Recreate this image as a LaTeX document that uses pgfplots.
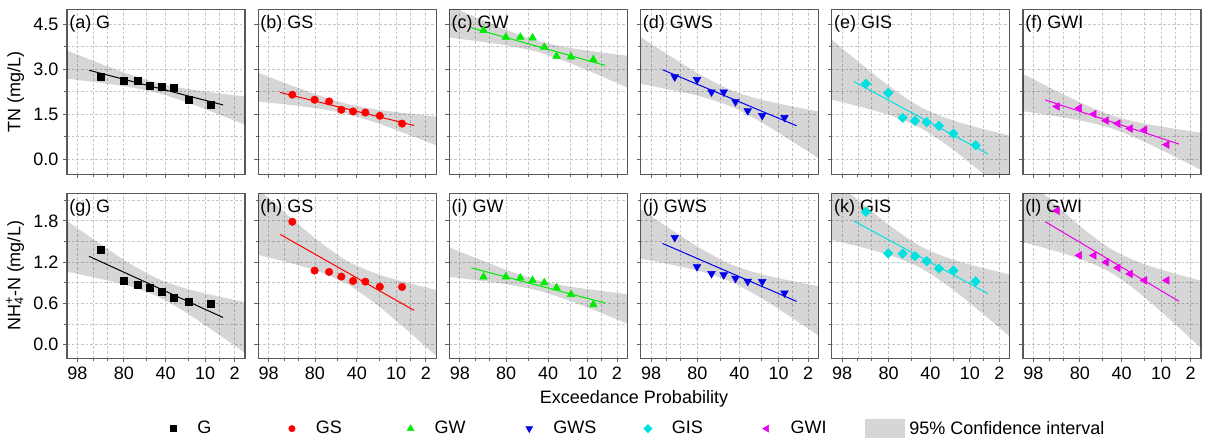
\documentclass[border=0pt]{standalone}
\usepackage{fontspec}
\setmainfont{Liberation Sans}
\usepackage{pgfplots}
\usepackage{pgfplotstable}
\pgfplotsset{compat=1.18}
\usepgfplotslibrary{fillbetween}

\newcommand{\fs}{\fontsize{13.5pt}{16pt}\selectfont}
\definecolor{cGS}{RGB}{255,0,0}
\definecolor{cGW}{RGB}{0,235,0}
\definecolor{cGWS}{RGB}{0,0,235}
\definecolor{cGIS}{RGB}{0,225,225}
\definecolor{cGWI}{RGB}{235,0,235}

% plotting positions (normal score, left = high exceedance)
\pgfplotstableread{
x      a     b     c     d     e     f     g     h     i     j     k     l
-1.434 2.745 2.153 4.295 2.745 2.52  1.761 1.385 1.786 0.984 1.557 1.932 1.947
-0.852 2.63  1.985 4.07  2.655 2.21  1.707 0.934 1.076 0.984 1.131 1.326 1.297
-0.473 2.63  1.928 4.07  2.243 1.383 1.507 0.871 1.057 0.969 1.032 1.322 1.297
-0.153 2.45  1.65  4.05  2.243 1.282 1.292 0.822 0.988 0.934 1.013 1.286 1.198
 0.153 2.41  1.594 3.736 1.918 1.239 1.192 0.768 0.925 0.900 0.963 1.213 1.116
 0.473 2.38  1.56  3.435 1.617 1.115 1.025 0.680 0.915 0.827 0.919 1.106 1.028
 0.852 2.00  1.45  3.415 1.46  0.857 0.981 0.626 0.841 0.728 0.915 1.076 0.934
 1.434 1.82  1.19  3.324 1.393 0.469 0.489 0.596 0.837 0.581 0.749 0.919 0.934
}\pts

\pgfplotstableread{
x      a     b     c     d     e     f     g     h     i     j     k     l
-1.751 2.968 2.227 4.382 2.985 2.593 1.981 1.284 1.602 1.115 1.470 1.798 1.789
 1.751 1.812 1.127 3.128 1.119 0.183 0.507 0.394 0.496 0.603 0.628 0.742 0.629
}\fits

\pgfplotstableread{
x      aU    aL    bU    bL    cU    cL    dU    dL    eU    eL     fU    fL     gU    gL     hU    hL     iU    iL    jU    jL    kU    kL    lU    lL
-2.326 3.628 2.688 2.887 1.927 5.118 4.058 4.072 2.512 3.988 1.988  2.843 1.603  1.800 1.060  2.264 1.304  1.414 0.984 1.969 1.249 2.421 1.521 2.469 1.489
-1.5   3.213 2.557 2.483 1.813 4.662 3.922 3.396 2.308 3.118 1.722  2.309 1.443  1.478 0.962  1.858 1.188  1.228 0.928 1.661 1.159 2.036 1.408 2.048 1.364
-0.75  2.855 2.420 2.135 1.691 4.269 3.779 2.813 2.091 2.367 1.442  1.847 1.273  1.201 0.859  1.508 1.064  1.068 0.869 1.396 1.063 1.704 1.288 1.684 1.230
 0     2.555 2.226 1.845 1.509 3.941 3.570 2.325 1.779 1.738 1.038  1.461 1.027  0.969 0.710  1.217 0.881  0.934 0.784 1.175 0.923 1.428 1.113 1.381 1.038
 0.75  2.360 1.925 1.664 1.220 3.732 3.242 2.013 1.291 1.335 0.410  1.215 0.641  0.820 0.478  1.034 0.590  0.849 0.650 1.035 0.702 1.252 0.836 1.188 0.734
 1.5   2.223 1.567 1.541 0.871 3.588 2.848 1.797 0.709 1.054 -0.342 1.046 0.180  0.716 0.200  0.910 0.240  0.790 0.490 0.939 0.437 1.132 0.504 1.055 0.371
 2.326 2.092 1.152 1.427 0.467 3.452 2.392 1.592 0.032 0.788 -1.212 0.885 -0.355 0.618 -0.122 0.794 -0.166 0.734 0.304 0.849 0.129 1.019 0.119 0.929 -0.051
}\bands

\pgfplotsset{
  panel/.style={
    anchor=north west, scale only axis, width=133.5pt, height=123.75pt,
    xmin=-2.326, xmax=2.326,
    xtick={-2.054,-0.8416,0.2533,1.2816,2.054},
    xticklabels={98,80,40,10,2},
    minor xtick={-1.645,-1.2816,-0.2533,0.8416,1.645},
    grid=both,
    major grid style={gray!45, dash pattern=on 2pt off 1.5pt, line width=0.5pt},
    minor grid style={gray!45, dash pattern=on 2pt off 1.5pt, line width=0.5pt},
    tick pos=left, tick align=outside,
    major tick length=3pt, minor tick length=2pt,
    tick style={black!60, line width=0.6pt},
    axis line style={black!65, line width=1pt},
    ticklabel style={font=\fs},
    yticklabel style={/pgf/number format/.cd, fixed, fixed zerofill, precision=1},
    /pgf/number format/assume math mode=true,
    label style={font=\fs},
  },
  toprow/.style={ymin=-0.5, ymax=5, ytick={0,1.5,3,4.5}, minor ytick={0.75,2.25,3.75}, xticklabels={}},
  botrow/.style={ymin=-0.2, ymax=2.2, ytick={0,0.6,1.2,1.8}, minor ytick={0.3,0.9,1.5,2.1}},
  noy/.style={yticklabels={}},
  bandfill/.style={fill=black, fill opacity=0.16, draw=none},
}
\tikzset{
  lgmark/.style={/pgfplots/legend image code/.code={\path[draw=none, fill=none] (-15pt,-7pt) rectangle (15pt,7pt); \draw[##1] plot coordinates {(0pt,0pt)};}},
  lgarea/.style={/pgfplots/legend image code/.code={\path[##1, draw=none] (-15pt,-7pt) rectangle (15pt,7pt);}},
}

% #1 column, #2 colour, #3 mark options, #4 panel title
\newcommand{\panel}[4]{%
  \addplot[name path=U, draw=none, smooth] table[x=x, y=#1U] {\bands};
  \addplot[name path=L, draw=none, smooth] table[x=x, y=#1L] {\bands};
  \addplot[bandfill] fill between[of=U and L];
  \addplot[#2, line width=0.75pt] table[x=x, y=#1] {\fits};
  \addplot[#2, only marks, #3] table[x=x, y=#1] {\pts};
  \node[anchor=base west, inner sep=0pt, font=\fs, xshift=1.5pt, yshift=-14.5pt] at (rel axis cs:0,1) {#4};
}

\begin{document}
\begin{tikzpicture}

\begin{axis}[panel, toprow, at={(0pt,0pt)}, ylabel={TN (mg/L)}]
  \panel{a}{black}{mark=square*, mark size=2.6pt}{(a) G}
\end{axis}
\begin{axis}[panel, toprow, noy, at={(143.4pt,0pt)}]
  \panel{b}{cGS}{mark=*, mark size=2.8pt}{(b) GS}
\end{axis}
\begin{axis}[panel, toprow, noy, at={(286.8pt,0pt)}]
  \panel{c}{cGW}{mark=triangle*, mark size=3.3pt}{(c) GW}
\end{axis}
\begin{axis}[panel, toprow, noy, at={(430.2pt,0pt)}]
  \panel{d}{cGWS}{mark=triangle*, mark size=3.3pt, mark options={rotate=180}}{(d) GWS}
\end{axis}
\begin{axis}[panel, toprow, noy, at={(573.6pt,0pt)}]
  \panel{e}{cGIS}{mark=square*, mark size=2.5pt, mark options={rotate=45}}{(e) GIS}
\end{axis}
\begin{axis}[panel, toprow, noy, at={(717pt,0pt)}]
  \panel{f}{cGWI}{mark=triangle*, mark size=3.3pt, mark options={rotate=90}}{(f) GWI}
\end{axis}

\begin{axis}[panel, botrow, at={(0pt,-138pt)}, ylabel={NH\rlap{\textsuperscript{+}}\textsubscript{4}-N (mg/L)}]
  \panel{g}{black}{mark=square*, mark size=2.6pt}{(g) G}
\end{axis}
\begin{axis}[panel, botrow, noy, at={(143.4pt,-138pt)}]
  \panel{h}{cGS}{mark=*, mark size=2.8pt}{(h) GS}
\end{axis}
\begin{axis}[panel, botrow, noy, at={(286.8pt,-138pt)}]
  \panel{i}{cGW}{mark=triangle*, mark size=3.3pt}{(i) GW}
\end{axis}
\begin{axis}[panel, botrow, noy, at={(430.2pt,-138pt)}]
  \panel{j}{cGWS}{mark=triangle*, mark size=3.3pt, mark options={rotate=180}}{(j) GWS}
\end{axis}
\begin{axis}[panel, botrow, noy, at={(573.6pt,-138pt)}]
  \panel{k}{cGIS}{mark=square*, mark size=2.5pt, mark options={rotate=45}}{(k) GIS}
\end{axis}
\begin{axis}[panel, botrow, noy, at={(717pt,-138pt)}]
  \panel{l}{cGWI}{mark=triangle*, mark size=3.3pt, mark options={rotate=90}}{(l) GWI}
\end{axis}

\node[font=\fs, anchor=base] at (425.25pt,-295.3pt) {Exceedance Probability};

% legend
\begin{axis}[at={(64.5pt,-314.5pt)}, anchor=center, scale only axis, width=1pt, height=1pt,
  hide axis, xmin=0, xmax=1, ymin=0, ymax=1,
  legend columns=7, legend cell align=left,
  legend style={at={(0.5,0.5)}, anchor=west, draw=none, fill=none, inner sep=0pt,
    font=\fs, nodes={inner sep=3pt},
    /tikz/every even column/.append style={column sep=3pt}}]
  \addplot[draw=none, forget plot] coordinates {(0.5,0.5)};
  \addlegendimage{lgmark, only marks, mark=square*, mark size=2.2pt, black}
  \addlegendentry{\makebox[50pt][l]{G}}
  \addlegendimage{lgmark, only marks, mark=*, mark size=2.4pt, cGS}
  \addlegendentry{\makebox[50pt][l]{GS}}
  \addlegendimage{lgmark, only marks, mark=triangle*, mark size=2.9pt, cGW}
  \addlegendentry{\makebox[50pt][l]{GW}}
  \addlegendimage{lgmark, only marks, mark=triangle*, mark size=2.9pt, mark options={rotate=180}, cGWS}
  \addlegendentry{\makebox[50pt][l]{GWS}}
  \addlegendimage{lgmark, only marks, mark=square*, mark size=2.2pt, mark options={rotate=45}, cGIS}
  \addlegendentry{\makebox[50pt][l]{GIS}}
  \addlegendimage{lgmark, only marks, mark=triangle*, mark size=2.9pt, mark options={rotate=90}, cGWI}
  \addlegendentry{\makebox[50pt][l]{GWI}}
  \addlegendimage{lgarea, fill=black, fill opacity=0.16}
  \addlegendentry{95\% Confidence interval}
\end{axis}

\pgfresetboundingbox
\useasboundingbox (-50.25pt,6.975pt) rectangle (854.25pt,-323.025pt);
\end{tikzpicture}
\end{document}
